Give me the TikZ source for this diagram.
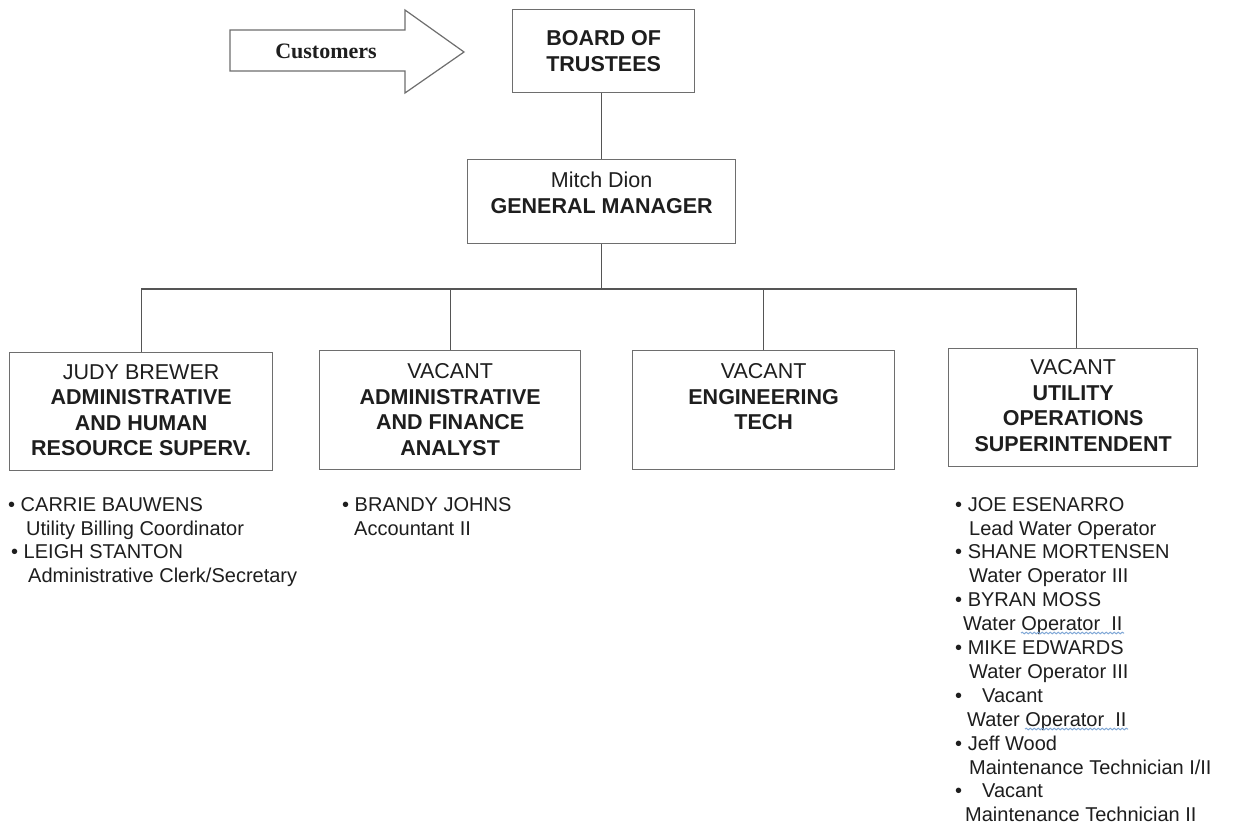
\documentclass[tikz,border=0pt]{standalone}
\usepackage{fontspec}
\setmainfont{Liberation Sans}
\newfontfamily\serifbold{Liberation Serif}
\usetikzlibrary{decorations.pathmorphing}
\definecolor{ink}{HTML}{1E1E1E}
\definecolor{boxgray}{HTML}{6E6E6E}
\definecolor{linegray}{HTML}{555555}
\definecolor{squig}{HTML}{7FA7D6}
\begin{document}
\begin{tikzpicture}[x=1pt,y=-1pt,
  box/.style={draw=boxgray, line width=1.3pt, fill=white, anchor=north west, inner sep=0pt},
  btxt/.style={anchor=north, inner sep=0pt, align=center, text=ink, font=\fontsize{21.5}{25.5}\selectfont},
  ltxt/.style={anchor=north west, inner sep=0pt, align=left, text=ink, font=\fontsize{20}{23.9}\selectfont},
  conn/.style={draw=linegray, line width=1.3pt},
  arrowline/.style={draw=boxgray, line width=1.2pt, fill=white, line join=miter},
  squiggle/.style={draw=squig, line width=1pt, decorate, decoration={snake, amplitude=0.8pt, segment length=4pt}}]
\useasboundingbox[fill=white] (0,0) rectangle (1236,827);

% arrow
\draw[arrowline] (230,30) -- (405,30) -- (405,10) -- (464,52) -- (405,93) -- (405,71) -- (230,71) -- cycle;
\node[inner sep=0pt, text=ink, font=\serifbold\bfseries\fontsize{22}{26}\selectfont] (cust) at (326,51) {Customers};

% boxes
\node[box, minimum width=182pt, minimum height=83pt] (board) at (512,9) {};
\node[box, minimum width=268pt, minimum height=84pt] (gm) at (467,159) {};
\node[box, minimum width=263pt, minimum height=118pt] (b1) at (9,352) {};
\node[box, minimum width=261pt, minimum height=119pt] (b2) at (319,350) {};
\node[box, minimum width=262pt, minimum height=119pt] (b3) at (632,350) {};
\node[box, minimum width=249pt, minimum height=118pt] (b4) at (948,348) {};

% box texts
\node[btxt] (tboard) at ([yshift=-21.5pt]board.north) {\textbf{BOARD OF}\\\textbf{TRUSTEES}};
\node[btxt] (tgm) at ([yshift=-13pt]gm.north) {Mitch Dion\\\textbf{GENERAL MANAGER}};
\node[btxt] (t1) at ([yshift=-12.5pt]b1.north) {JUDY BREWER\\\textbf{ADMINISTRATIVE}\\\textbf{AND HUMAN}\\\textbf{RESOURCE SUPERV.}};
\node[btxt] (t2) at ([yshift=-13.5pt]b2.north) {VACANT\\\textbf{ADMINISTRATIVE}\\\textbf{AND FINANCE}\\\textbf{ANALYST}};
\node[btxt] (t3) at ([yshift=-13.5pt]b3.north) {VACANT\\\textbf{ENGINEERING}\\\textbf{TECH}};
\node[btxt] (t4) at ([yshift=-11.5pt]b4.north) {VACANT\\\textbf{UTILITY}\\\textbf{OPERATIONS}\\\textbf{SUPERINTENDENT}};

% connectors
\coordinate (bus) at (601,289);
\coordinate (b4n) at ([xshift=3.5pt]b4.north);
\draw[conn] (board.south -| gm.north) -- (gm.north);
\draw[conn] (gm.south) -- (gm.south |- bus);
\draw[conn] (b1.north) |- (bus) -| (b4n);
\draw[conn] (b2.north) -- (b2.north |- bus);
\draw[conn] (b3.north) -- (b3.north |- bus);

% staff lists
\node[ltxt] (l1) at (8,497) {• CARRIE BAUWENS\\
\hspace*{18pt}Utility Billing Coordinator\\
\hspace*{3pt}• LEIGH STANTON\\
\hspace*{20pt}Administrative Clerk/Secretary};
\node[ltxt] (l2) at (342,497) {• BRANDY JOHNS\\
\hspace*{12pt}Accountant II};
\node[ltxt] (l4) at (955,497) {• JOE ESENARRO\\
\hspace*{14pt}Lead Water Operator\\
• SHANE MORTENSEN\\
\hspace*{14pt}Water Operator III\\
• BYRAN MOSS\\
\hspace*{8pt}Water Operator\ \ II\\
• MIKE EDWARDS\\
\hspace*{14pt}Water Operator III\\
•\hspace{20pt}Vacant\\
\hspace*{12pt}Water Operator\ \ II\\
• Jeff Wood\\
\hspace*{14pt}Maintenance Technician I/II\\
•\hspace{20pt}Vacant\\
\hspace*{10pt}Maintenance Technician II};

% spell-check squiggles
\draw[squiggle] (1021,633) -- (1124,633);
\draw[squiggle] (1025,729) -- (1128,729);
\end{tikzpicture}
\end{document}
